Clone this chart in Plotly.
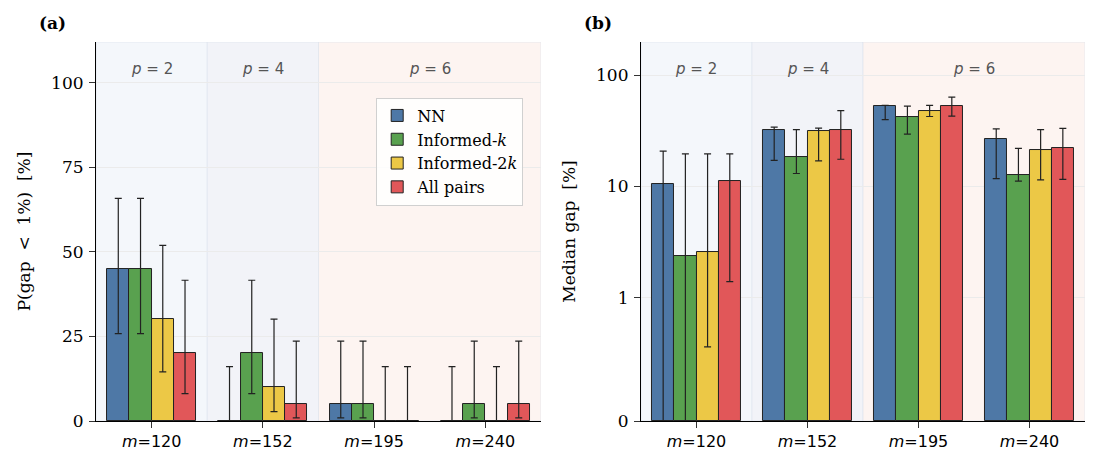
import math
import plotly.graph_objects as go

# ---------------- data ----------------
m_labels = ["120", "152", "195", "240"]
series = ["NN", "Informed-<i>k</i>", "Informed-2<i>k</i>", "All pairs"]
colors = ["#4e78a6", "#59a14f", "#ecc846", "#e15759"]

# panel (a): P(gap < 1%) [%] with CI bounds
pa_val = {
    "NN":        [45, 0, 5, 0],
    "Informed-k": [45, 20, 5, 5],
    "Informed-2k": [30, 10, 0, 0],
    "All pairs": [20, 5, 0, 5],
}
pa_lo = {
    "NN":        [25.8, 0, 0.9, 0],
    "Informed-k": [25.8, 8.1, 0.9, 0.9],
    "Informed-2k": [14.5, 2.8, 0, 0],
    "All pairs": [8.1, 0.9, 0, 0.9],
}
pa_hi = {
    "NN":        [65.8, 16.1, 23.6, 16.1],
    "Informed-k": [65.8, 41.6, 23.6, 23.6],
    "Informed-2k": [51.9, 30.1, 16.1, 16.1],
    "All pairs": [41.6, 23.6, 16.1, 23.6],
}

# panel (b): median gap [%] with bounds
pb_val = {
    "NN":        [10.5, 32.6, 52.9, 26.9],
    "Informed-k": [2.35, 18.5, 42.4, 12.8],
    "Informed-2k": [2.55, 31.3, 48.0, 21.5],
    "All pairs": [11.1, 32.4, 52.9, 22.0],
}
pb_lo = {
    "NN":        [0.0, 17.2, 40.1, 11.8],
    "Informed-k": [0.0, 13.1, 29.6, 11.2],
    "Informed-2k": [0.6, 17.0, 42.7, 11.5],
    "All pairs": [1.39, 17.6, 43.0, 11.6],
}
pb_hi = {
    "NN":        [20.8, 34.2, 53.7, 33.0],
    "Informed-k": [19.7, 32.6, 52.9, 22.1],
    "Informed-2k": [19.7, 33.5, 53.7, 32.6],
    "All pairs": [19.7, 48.3, 63.7, 33.4],
}
keys = ["NN", "Informed-k", "Informed-2k", "All pairs"]

p_groups = [("2", -0.5, 0.5), ("4", 0.5, 1.5), ("6", 1.5, 3.5)]
p_fill = ["#f4f7fb", "#f2f3f8", "#fdf4f1"]
a_ticks = [0, 25, 50, 75, 100]
b_ticks = [0, 1, 10, 100]

# symlog transform (linthresh=1, linscale=1, base 10) as matplotlib
LS = 1.0 / (1 - 1 / 10.0)


def symlog(v):
    if v <= 1:
        return v * LS
    return LS + math.log10(v)


SERIF = "DejaVu Serif"
SANS = "DejaVu Sans"
fig = go.Figure()

offs = [-0.3, -0.1, 0.1, 0.3]
for i, k in enumerate(keys):
    xs = [j + offs[i] for j in range(len(m_labels))]
    v = pa_val[k]
    fig.add_trace(go.Bar(
        x=xs, y=v, width=0.2, name=series[i], xaxis="x", yaxis="y",
        marker=dict(color=colors[i], line=dict(color="#222222", width=1)),
        error_y=dict(type="data", symmetric=False,
                     array=[h - a for h, a in zip(pa_hi[k], v)],
                     arrayminus=[a - l for a, l in zip(v, pa_lo[k])],
                     color="#222222", thickness=1.2, width=3.5),
        legendgroup=k, showlegend=True,
    ))
for i, k in enumerate(keys):
    xs = [j + offs[i] for j in range(len(m_labels))]
    tv = [symlog(a) for a in pb_val[k]]
    th = [symlog(a) for a in pb_hi[k]]
    tl = [symlog(a) for a in pb_lo[k]]
    fig.add_trace(go.Bar(
        x=xs, y=tv, width=0.2, name=series[i], xaxis="x2", yaxis="y2",
        marker=dict(color=colors[i], line=dict(color="#222222", width=1)),
        error_y=dict(type="data", symmetric=False,
                     array=[h - a for h, a in zip(th, tv)],
                     arrayminus=[a - l for a, l in zip(tv, tl)],
                     color="#222222", thickness=1.2, width=3.5),
        legendgroup=k, showlegend=False,
    ))

shapes = []
annotations = []
for xr, yr, ytop in [("x", "y", 112), ("x2", "y2", symlog(200))]:
    for (p, x0, x1), col in zip(p_groups, p_fill):
        shapes.append(dict(type="rect", xref=xr, yref=yr, x0=x0, x1=x1, y0=0, y1=ytop,
                           fillcolor=col, line=dict(width=1, color="rgba(220,226,236,0.6)"),
                           layer="below"))
        annotations.append(dict(xref=xr, yref="paper", x=(x0 + x1) / 2, y=0.853,
                                text=f"<i>p</i> = {p}", showarrow=False,
                                font=dict(family=SANS, size=15, color="#555555"),
                                xanchor="center", yanchor="middle"))

annotations.append(dict(xref="paper", yref="paper", x=0.034, y=0.951, text="<b>(a)</b>",
                        showarrow=False, font=dict(family=SERIF, size=17, color="black"),
                        xanchor="left", yanchor="middle"))
annotations.append(dict(xref="paper", yref="paper", x=0.529, y=0.951, text="<b>(b)</b>",
                        showarrow=False, font=dict(family=SERIF, size=17, color="black"),
                        xanchor="left", yanchor="middle"))

xtext = [f"<i>m</i>={m}" for m in m_labels]

common_x = dict(range=[-0.5, 3.5], tickvals=[0, 1, 2, 3], ticktext=xtext,
                showline=True, linecolor="black", linewidth=1.2, ticks="outside",
                ticklen=6, tickcolor="#333333", tickwidth=1.2, showgrid=False, zeroline=False,
                tickfont=dict(family=SANS, size=16, color="black"), fixedrange=True,
                automargin=False)
common_y = dict(showline=True, linecolor="black", linewidth=1.2, ticks="outside",
                ticklen=6, tickcolor="#333333", tickwidth=1.2, showgrid=True,
                gridcolor="#ebebeb", gridwidth=1, zeroline=False, automargin=False,
                ticklabelstandoff=2,
                tickfont=dict(family="'DejaVu Serif', serif", size=17, color="black"))

fig.update_layout(
    width=1100, height=469, margin=dict(l=0, r=0, t=0, b=0),
    paper_bgcolor="white", plot_bgcolor="white",
    barmode="overlay", bargap=0,
    xaxis=dict(domain=[0.0873, 0.4918], anchor="y", **common_x),
    xaxis2=dict(domain=[0.5827, 0.9864], anchor="y2", **common_x),
    yaxis=dict(domain=[0.1023, 0.9104], anchor="x", range=[0, 112],
               tickvals=a_ticks, ticktext=[str(t) for t in a_ticks],
               title=dict(text="P(gap  &lt;  1%)  [%]", font=dict(family=SERIF, size=17, color="black"),
                          standoff=16),
               **common_y),
    yaxis2=dict(domain=[0.1023, 0.9104], anchor="x2", range=[0, symlog(200)],
                tickvals=[symlog(t) if t > 0 else 0 for t in b_ticks],
                ticktext=[str(t) for t in b_ticks],
                title=dict(text="Median gap  [%]", font=dict(family=SERIF, size=17, color="black"),
                           standoff=16),
                **common_y),
    legend=dict(x=0.342, y=0.792, xanchor="left", yanchor="top",
                bgcolor="rgba(255,255,255,0.85)", bordercolor="#d0d0d0", borderwidth=1,
                font=dict(family=SERIF, size=16, color="black"), tracegroupgap=0,
                itemwidth=30),
    shapes=shapes, annotations=annotations,
)

fig.write_html("out.html")
